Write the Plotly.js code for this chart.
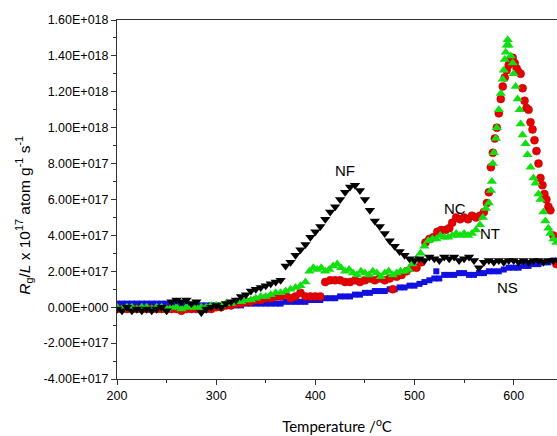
<!DOCTYPE html>
<html>
<head>
<meta charset="utf-8">
<script src="https://cdn.plot.ly/plotly-3.0.1.min.js"></script>
<style>html,body{margin:0;padding:0;background:#fff;}#chart{width:557px;height:436px;}</style>
</head>
<body>
<div id="chart"></div>
<script>
// Values in units of 1e17 atom g^-1 s^-1
const tNF = [200,205,210,215,220,225,230,235,240,245,250,255,260,265,270,275,280,285,290,295,300,305,310,315,320,325,330,335,340,345,350,355,360,365,370,375,380,385,390,395,400,405,410,415,420,425,430,435,440,445,450,455,460,465,470,475,480,485,490,495,500,505,510,515,520,525,530,535,540,545,550,555,560,565,570,575,580,585,590,595,600,605,610,615,620,625,630,635,640,645];
const vNF = [-0.1,-0.2,0.0,-0.2,-0.1,-0.2,-0.1,-0.2,-0.1,0.0,-0.2,0.3,0.4,0.3,0.4,0.2,0.3,-0.3,-0.1,0.0,0.1,0.0,0.2,0.3,0.4,0.6,0.7,0.9,1.0,1.1,1.2,1.3,1.4,1.5,2.3,2.5,2.9,3.2,3.5,3.9,4.2,4.5,4.9,5.3,5.6,6.0,6.4,6.7,6.8,6.5,6.0,5.4,4.8,4.5,4.1,3.7,3.4,3.1,2.9,2.7,2.6,2.7,2.6,2.8,2.7,2.6,2.8,2.7,2.8,2.6,2.7,2.8,2.6,2.2,2.5,2.6,2.5,2.6,2.5,2.6,2.6,2.5,2.6,2.5,2.6,2.6,2.5,2.6,2.6,2.6];

const tNC = [200,205,210,215,220,225,230,235,240,245,250,255,260,265,270,275,280,285,290,295,300,305,310,315,320,325,330,335,340,345,350,355,360,365,370,375,380,385,390,395,400,405,410,415,420,425,430,435,440,445,450,455,460,465,470,475,478,482,487,492,497,502,507,511,515,519,523,527,531,535,538,542,546,550,554,558,562,566,570,573,575,577,579,581,583,585,587,589,591,593,595,597,599,601,603,605,607,609,611,613,615,617,619,621,623,625,627,629,631,633,635,637,640,643];
const vNC = [-0.1,-0.1,-0.1,-0.1,-0.1,-0.1,-0.1,-0.1,-0.1,-0.1,-0.1,-0.1,-0.1,-0.2,-0.1,-0.1,-0.1,-0.1,-0.1,-0.1,0.0,0.0,0.1,0.1,0.2,0.2,0.3,0.3,0.4,0.4,0.5,0.5,0.6,0.6,0.7,0.5,0.6,0.8,0.6,0.6,0.6,0.6,1.4,1.5,1.5,1.5,1.4,1.4,1.5,1.4,1.5,1.6,1.5,1.6,1.5,1.6,1.0,1.7,1.8,2.0,2.2,2.2,2.5,3.6,3.8,3.9,4.2,4.3,4.3,4.4,4.7,5.0,4.9,5.0,4.9,5.1,5.0,5.1,5.3,5.8,6.4,7.8,8.6,9.4,10.0,10.8,11.6,12.3,12.8,13.2,13.5,13.8,13.9,13.6,13.3,13.1,13.0,12.2,11.5,11.1,11.0,10.3,9.9,9.3,8.7,8.0,7.2,6.8,6.3,6.0,5.6,5.4,4.0,2.4];

const tNT = [200,205,210,215,220,225,230,235,240,245,250,255,260,265,270,275,280,285,290,295,300,305,310,315,320,325,330,335,340,345,350,355,360,365,370,375,380,385,390,394,398,402,406,410,414,418,422,426,430,434,438,442,446,450,454,458,462,466,470,474,478,482,486,490,494,498,502,506,510,514,518,522,526,530,534,538,542,546,550,554,558,562,566,569,572,575,577,578,579,580,582,583,585,587,589,590,591,592,593,594,595,597,599,600,602,604,606,607,609,612,614,617,620,622,625,627,630,632,635,637,640,643];
const vNT = [0.0,-0.1,0.0,0.0,-0.1,0.0,0.0,-0.1,0.0,0.0,-0.1,0.0,0.0,-0.1,0.0,0.0,0.0,0.0,0.0,0.1,0.1,0.1,0.2,0.2,0.3,0.3,0.4,0.4,0.5,0.6,0.6,0.7,0.8,0.8,0.9,1.0,1.1,1.2,1.4,2.0,2.2,2.1,2.2,2.0,2.1,2.3,2.4,2.2,2.0,2.1,1.9,1.8,2.0,1.9,1.8,2.0,1.9,1.7,1.9,2.0,1.8,1.9,2.0,2.0,2.1,2.4,2.7,3.0,3.4,3.7,3.8,3.8,4.0,3.9,3.9,4.0,4.1,4.0,4.1,4.0,4.1,4.3,4.6,5.0,5.5,5.8,6.5,7.0,8.0,8.6,9.4,10.0,11.0,11.9,12.7,13.2,13.8,14.2,14.6,14.9,14.6,14.0,13.6,13.0,12.3,11.6,11.0,10.2,9.6,9.1,8.5,7.8,7.2,6.9,6.3,6.0,5.3,4.8,4.4,4.1,3.8,3.6];

const tNS = [200,205,210,215,220,225,230,235,240,245,250,255,260,265,270,275,280,285,290,295,300,305,310,315,320,325,330,335,340,345,350,355,360,365,370,375,380,385,390,395,400,405,410,415,420,425,430,435,440,445,450,455,460,465,470,475,480,485,490,495,500,505,510,515,520,522,525,530,535,540,545,550,555,560,565,570,575,580,585,590,595,600,605,610,615,620,625,630,635,640,645];
const vNS = [0.2,0.2,0.2,0.2,0.2,0.2,0.2,0.2,0.2,0.2,0.2,0.2,0.2,0.1,0.2,0.1,0.1,0.1,0.1,0.1,0.1,0.1,0.1,0.1,0.1,0.1,0.2,0.2,0.2,0.2,0.2,0.2,0.2,0.2,0.3,0.3,0.3,0.3,0.3,0.4,0.4,0.4,0.5,0.5,0.5,0.6,0.6,0.6,0.7,0.7,0.8,0.8,0.9,0.9,0.9,1.0,1.0,1.1,1.1,1.2,1.2,1.3,1.4,1.5,1.6,2.0,1.6,1.8,1.8,1.8,1.9,1.9,1.8,1.8,1.9,1.9,2.0,2.0,2.0,2.1,2.2,2.2,2.2,2.3,2.3,2.4,2.4,2.5,2.5,2.6,2.6];

const yTickVals = [-4,-2,0,2,4,6,8,10,12,14,16];
const yTickText = ['-4.00E+017','-2.00E+017','0.00E+000','2.00E+017','4.00E+017','6.00E+017','8.00E+017','1.00E+018','1.20E+018','1.40E+018','1.60E+018'];
const xTickVals = [200,300,400,500,600];

const seriesLabels = [
  {text:'NF', x:430, y:7.6},
  {text:'NC', x:541, y:5.5},
  {text:'NT', x:576, y:4.1},
  {text:'NS', x:594, y:1.1}
];

const traces = [
  {x:tNS, y:vNS, name:'NS', mode:'markers', type:'scatter',
   marker:{symbol:'square', size:6, color:'#1010e0', line:{width:0}}},
  {x:tNC, y:vNC, name:'NC', mode:'markers', type:'scatter',
   marker:{symbol:'circle', size:8, color:'#e80000', line:{width:0.5, color:'#b00000'}}},
  {x:tNT, y:vNT, name:'NT', mode:'markers', type:'scatter',
   marker:{symbol:'triangle-up', size:9, color:'#10e010', line:{width:0}}},
  {x:tNF, y:vNF, name:'NF', mode:'markers', type:'scatter',
   marker:{symbol:'triangle-down', size:9, color:'#000000', line:{width:0}}}
];

const annotations = seriesLabels.map(l => ({
  x:l.x, y:l.y, xref:'x', yref:'y', text:l.text, showarrow:false,
  font:{family:'Liberation Sans, Arial', size:15, color:'#000'}
}));
annotations.push({
  xref:'paper', yref:'paper', x:-0.211, y:0.455, xanchor:'center', yanchor:'middle',
  textangle:-90, showarrow:false,
  text:'<i>R</i><sub>g</sub>/<i>L</i> x 10<sup>17</sup> atom g<sup>-1</sup> s<sup>-1</sup>',
  font:{family:'Liberation Sans, Arial', size:15.5, color:'#000'}
});

const layout = {
  width:557, height:436,
  margin:{l:117, r:0, t:20, b:57, pad:0},
  paper_bgcolor:'#fff', plot_bgcolor:'#fff',
  showlegend:false,
  xaxis:{
    range:[200,643.7], showgrid:false, zeroline:false,
    showline:true, linecolor:'#333', linewidth:1, mirror:true,
    ticks:'outside', ticklen:5, tickcolor:'#333', tickwidth:1,
    tickvals:xTickVals,
    minor:{ticks:'outside', ticklen:3, tickcolor:'#333', dtick:50, tick0:200},
    tickfont:{family:'Liberation Sans, Arial', size:12.5, color:'#000'},
    title:{text:'Temperature /<sup>o</sup>C', font:{family:'Lato, Open Sans', size:15, color:'#000'}, standoff:19}
  },
  yaxis:{
    range:[-4,16], showgrid:false, zeroline:false,
    showline:true, linecolor:'#333', linewidth:1,
    ticks:'outside', ticklen:5, tickcolor:'#333', tickwidth:1,
    tickvals:yTickVals, ticktext:yTickText,
    minor:{ticks:'outside', ticklen:3, tickcolor:'#333', dtick:1, tick0:0},
    tickfont:{family:'Liberation Sans, Arial', size:12.5, color:'#000'}
  },
  annotations:annotations
};

Plotly.newPlot('chart', traces, layout, {displayModeBar:false, staticPlot:true});
</script>
</body>
</html>
